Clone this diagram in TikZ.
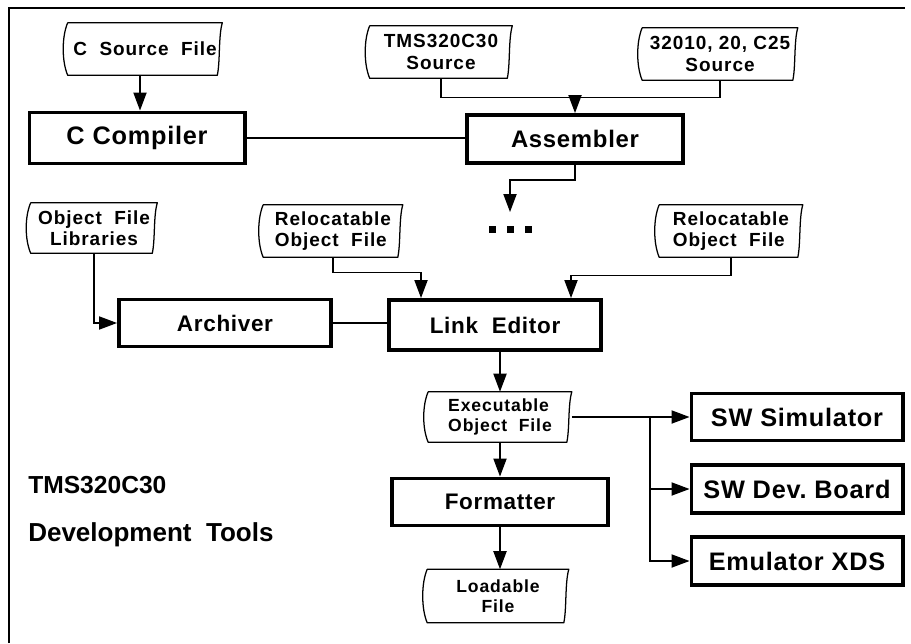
\documentclass[tikz,border=0pt]{standalone}
\usepackage{fontspec}
\setmainfont{Liberation Sans}
\newfontfamily\boxfont{Liberation Sans}[LetterSpace=3]
\newfontfamily\docfont{Liberation Sans}[LetterSpace=5]
\usetikzlibrary{calc,arrows.meta}
\tikzset{
    tool/.style={
        draw,
        line width=2.8pt,
        minimum width=5.35cm,
        minimum height=1.2cm,
        font={\boxfont\bfseries\fontsize{16}{19}\selectfont},
    },
    bigtool/.style={
        tool,
        font={\boxfont\bfseries\fontsize{18}{21}\selectfont},
    },
    file/.style={
        inner sep=2pt,
        align=center,
        minimum height=1.3cm,
        font={\docfont\bfseries\fontsize{13.5}{15}\selectfont},
    },
    docline/.style={line width=0.9pt, line join=round},
    wire/.style={line width=0.9pt},
    arr/.style={wire, -{Triangle[length=4.5mm,width=3.3mm]}},
}

\begin{document}
\begin{tikzpicture}[x=0.025cm, y=-0.025cm]
    \useasboundingbox (0,0) rectangle (911,643);
    % frame (only top and left edges show)
    \draw[line width=0.8pt] (9,643) -- (9,8) -- (905,8);

    % Sources and C compiler
    \node[file, minimum width=3.85cm] (csrc) at (145,49) {C\ \ Source\ \ File};
    \node[file, minimum width=3.55cm] (tmssrc) at (441,52) {TMS320C30\\Source};
    \node[file, minimum width=3.875cm] (oldsrc) at (720,54) {32010, 20, C25\\Source};
    \node[bigtool, minimum width=5.375cm, minimum height=1.275cm] (ccomp) at (137,138) {C Compiler};
    \node[tool, minimum width=5.4cm, font={\boxfont\bfseries\fontsize{17}{20}\selectfont}] (asm) at (575,139) {Assembler};
    \node[inner sep=0pt] (dots) at (510,229)
      {\rule{0.175cm}{0.175cm}\hspace{0.275cm}\rule{0.175cm}{0.175cm}\hspace{0.275cm}\rule{0.175cm}{0.175cm}};

    % Libraries, relocatable files, archiver and linker
    \node[file, minimum width=3.15cm, minimum height=1.25cm] (objlib) at (94,228) {Object\ \ File\\Libraries};
    \node[file, minimum width=3.475cm, align=left] (reloc1) at (333,231) {Relocatable\\Object\ \ File};
    \node[file, minimum width=3.575cm, align=left] (reloc2) at (731,231) {Relocatable\\Object\ \ File};
    \node[tool, minimum width=5.3cm, minimum height=1.175cm] (arch) at (225,323) {Archiver};
    \node[tool, minimum width=5.3cm, minimum height=1.25cm] (linked) at (495,325) {Link\ \ Editor};

    % Output files and targets
    \node[file, minimum width=3.575cm, minimum height=1.25cm, align=left,
      font={\docfont\bfseries\fontsize{12.5}{14.5}\selectfont}] (exec) at (500,417) {Executable\\Object\ \ File};
    \node[tool, minimum width=5.4cm, minimum height=1.175cm] (fmt) at (500,502) {Formatter};
    \node[file, minimum width=3.525cm, minimum height=1.325cm,
      font={\docfont\bfseries\fontsize{12.5}{14.5}\selectfont}] (load) at (498,596) {Loadable\\File};
    \node[bigtool, minimum width=5.275cm, minimum height=1.175cm] (sim) at (797,417) {SW\ Simulator};
    \node[bigtool, minimum width=5.275cm] (board) at (797,489) {SW\ Dev.\ Board};
    \node[bigtool, minimum width=5.275cm] (emu) at (797,561) {Emulator\ XDS};

    % Title
    \node[anchor=west, inner sep=0pt, font=\bfseries\fontsize{17.5}{20}\selectfont] (title1) at (28,485) {TMS320C30};
    \node[anchor=west, inner sep=0pt, font=\bfseries\fontsize{18.5}{21}\selectfont] (title2) at (28,535) {Development\ \ Tools};

    % file outlines
    \foreach \n in {csrc,tmssrc,oldsrc,objlib,reloc1,reloc2,exec,load} {
      \draw[docline] (\n.north west) -- (\n.north east)
        .. controls +(-4,14) and +(3,-14) .. ($(\n.south east)+(-5,0)$)
        -- (\n.south west)
        .. controls +(-6,-14) and +(-6,14) .. (\n.north west);
    }

    % Connections
    \draw[arr] (csrc.south -| 140,0) -- (ccomp.north -| 140,0);
    \path (tmssrc.south) ++(0,19) coordinate (srcbus);
    \draw[wire] (tmssrc.south) -- (srcbus) -| (oldsrc.south);
    \draw[arr] (srcbus -| asm.north) -- (asm.north);
    \draw[wire] (ccomp.east) -- (ccomp.east -| asm.west);
    \draw[arr] (asm.south) -- ++(0,15) -| ([yshift=0.33cm]dots.north);

    \draw[arr] (objlib.south) |- (arch.west);
    \draw[wire] (arch.east) -- (arch.east -| linked.west);
    \draw[arr] (reloc1.south) -- ++(0,15) -| ($(linked.north west)+(34,0)$);
    \draw[arr] (reloc2.south) -- ++(0,18) -| ($(linked.north east)+(-32,0)$);
    \draw[arr] (linked.south -| exec.north) -- (exec.north);

    \draw[arr] (exec.south) -- (fmt.north);
    \draw[arr] (fmt.south) -- (fmt.south |- load.north);
    \draw[arr] (exec.east) -- (exec.east -| sim.west);
    \coordinate (tap) at (650,417);
    \draw[arr] (tap) |- (board.west);
    \draw[arr] (tap) |- (emu.west);
\end{tikzpicture}
\end{document}
